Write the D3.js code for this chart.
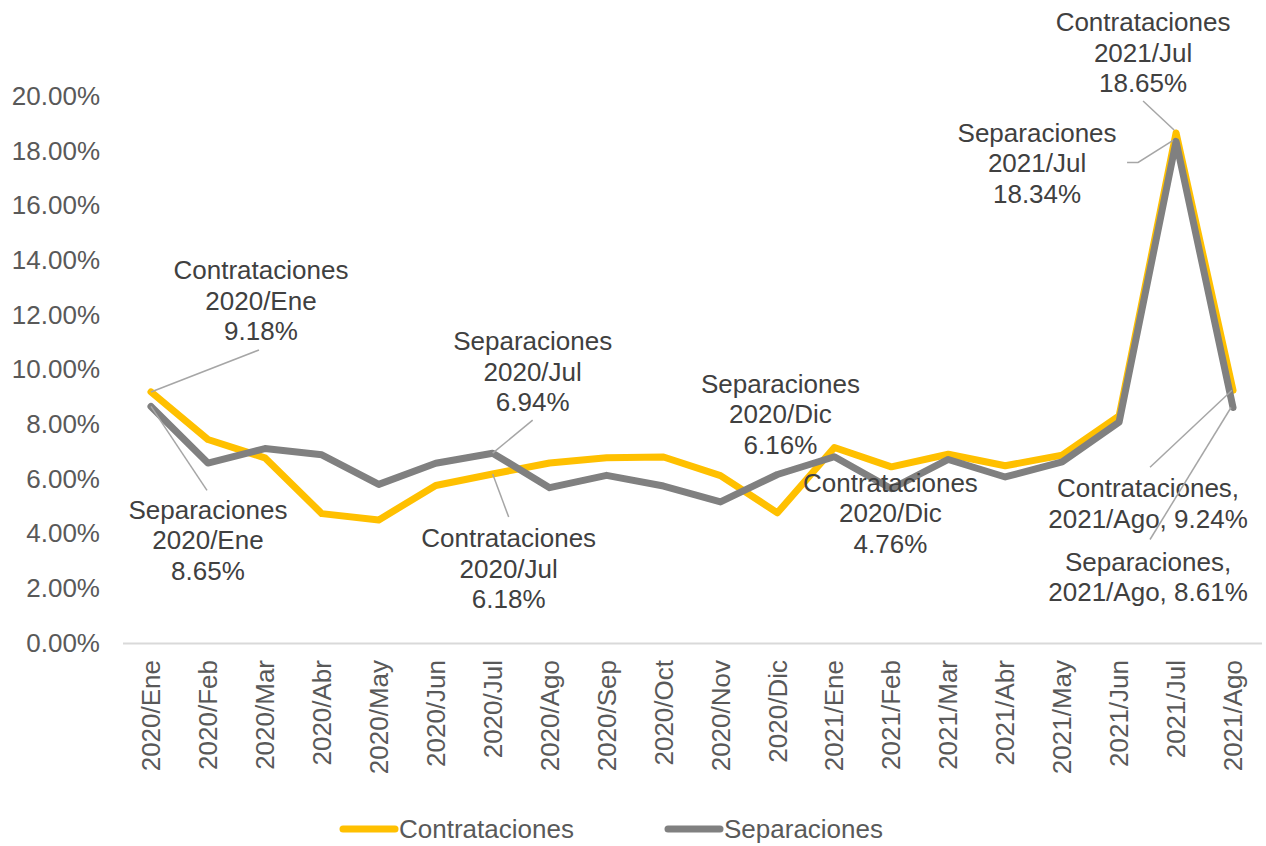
<!DOCTYPE html>
<html>
<head>
<meta charset="utf-8">
<script src="https://cdn.jsdelivr.net/npm/d3@7"></script>
<style>
  body { margin: 0; background: #fff; }
  svg text { font-family: "Liberation Sans", Arial, sans-serif; }
</style>
</head>
<body>
<svg id="chart" width="1266" height="846"></svg>
<script>
var months = ["2020/Ene","2020/Feb","2020/Mar","2020/Abr","2020/May","2020/Jun","2020/Jul","2020/Ago","2020/Sep","2020/Oct","2020/Nov","2020/Dic",
              "2021/Ene","2021/Feb","2021/Mar","2021/Abr","2021/May","2021/Jun","2021/Jul","2021/Ago"];
var contrataciones = [9.18, 7.44, 6.77, 4.73, 4.50, 5.76, 6.18, 6.58, 6.77, 6.80, 6.12, 4.76, 7.15, 6.44, 6.90, 6.48, 6.87, 8.30, 18.65, 9.24];
var separaciones  = [8.65, 6.58, 7.11, 6.88, 5.80, 6.57, 6.94, 5.68, 6.13, 5.74, 5.16, 6.16, 6.81, 5.64, 6.71, 6.07, 6.62, 8.08, 18.34, 8.61];
var yTicks = [0, 2, 4, 6, 8, 10, 12, 14, 16, 18, 20];
var seriesNames = ["Contrataciones", "Separaciones"];

// data labels: which point, text lines, offsets from the point, leader path (offsets)
var labels = [
  { s: 0, i: 0,  lines: ["Contrataciones", "2020/Ene", "9.18%"], dx: 110, dy: -122, leader: [[0,0],[108,-42]] },
  { s: 1, i: 0,  lines: ["Separaciones", "2020/Ene", "8.65%"], dx: 57, dy: 103, leader: [[0,0],[56,84]] },
  { s: 1, i: 6,  lines: ["Separaciones", "2020/Jul", "6.94%"], dx: 40, dy: -112, leader: [[0,0],[40,-33]] },
  { s: 0, i: 6,  lines: ["Contrataciones", "2020/Jul", "6.18%"], dx: 16, dy: 64, leader: [[0,0],[16,43]] },
  { s: 1, i: 11, lines: ["Separaciones", "2020/Dic", "6.16%"], dx: 3, dy: -91, leader: null },
  { s: 0, i: 11, lines: ["Contrataciones", "2020/Dic", "4.76%"], dx: 113, dy: -30, leader: null },
  { s: 0, i: 18, lines: ["Contrataciones", "2021/Jul", "18.65%"], dx: -33, dy: -111, leader: [[-2,-3],[-33,-32]] },
  { s: 1, i: 18, lines: ["Separaciones", "2021/Jul", "18.34%"], dx: -139, dy: -9, leader: [[-3,-1],[-38,21],[-49,21]] },
  { s: 0, i: 19, lines: ["Contrataciones,", "2021/Ago, 9.24%"], dx: -85, dy: 98, leader: [[-1,0],[-83,77]] },
  { s: 1, i: 19, lines: ["Separaciones,", "2021/Ago, 8.61%"], dx: -85, dy: 154, leader: [[-2,0],[-83,132]] }
];

var colors = ["#FFC000", "#808080"];
var data = [contrataciones, separaciones];

var svg = d3.select("#chart");

var x = d3.scaleBand().domain(months).range([122.5, 1261.5]);
var y = d3.scaleLinear().domain([0, 20]).range([643, 96]);

function px(i) { return x(months[i]) + x.bandwidth() / 2; }

// y axis
var yAxis = svg.append("g")
  .attr("transform", "translate(100,0)")
  .call(d3.axisLeft(y).tickValues(yTicks).tickSize(0).tickPadding(0)
    .tickFormat(function(d) { return d.toFixed(2) + "%"; }));
yAxis.select(".domain").remove();
yAxis.selectAll("text")
  .style("font-size", "26px")
  .attr("fill", "#595959")
  .attr("font-family", "Liberation Sans, Arial, sans-serif");

// x axis
var xAxis = svg.append("g")
  .attr("transform", "translate(0,643)")
  .call(d3.axisBottom(x).tickSize(0).tickPadding(0));
xAxis.select(".domain").attr("stroke", "#d9d9d9").attr("stroke-width", 2);
xAxis.selectAll("text")
  .style("font-size", "26px")
  .attr("fill", "#595959")
  .attr("font-family", "Liberation Sans, Arial, sans-serif")
  .attr("text-anchor", "end")
  .attr("transform", "translate(0,17) rotate(-90)")
  .attr("x", 0)
  .attr("y", 0)
  .attr("dy", "0.35em");

// lines
var line = d3.line()
  .x(function(d, i) { return px(i); })
  .y(function(d) { return y(d); });

data.forEach(function(vals, k) {
  svg.append("path")
    .datum(vals)
    .attr("fill", "none")
    .attr("stroke", colors[k])
    .attr("stroke-width", 7)
    .attr("stroke-linejoin", "round")
    .attr("stroke-linecap", "round")
    .attr("d", line);
});

// data labels
labels.forEach(function(l) {
  var cx = px(l.i), cy = y(data[l.s][l.i]);
  if (l.leader) {
    svg.append("path")
      .attr("fill", "none")
      .attr("stroke", "#a6a6a6")
      .attr("stroke-width", 1.5)
      .attr("d", d3.line()(l.leader.map(function(p) { return [cx + p[0], cy + p[1]]; })));
  }
  var t = svg.append("text")
    .attr("text-anchor", "middle")
    .attr("fill", "#404040")
    .style("font-size", "26px");
  l.lines.forEach(function(s, j) {
    t.append("tspan")
      .attr("x", cx + l.dx)
      .attr("y", cy + l.dy + j * 30.5)
      .attr("dy", "0.35em")
      .text(s);
  });
});

// legend
var legendX = [340, 665];
seriesNames.forEach(function(name, k) {
  var g = svg.append("g").attr("transform", "translate(" + legendX[k] + ",829)");
  g.append("line")
    .attr("x1", 3).attr("x2", 55)
    .attr("stroke", colors[k])
    .attr("stroke-width", 7)
    .attr("stroke-linecap", "round");
  g.append("text")
    .attr("x", 59)
    .attr("dy", "0.35em")
    .attr("fill", "#595959")
    .style("font-size", "26px")
    .text(name);
});
</script>
</body>
</html>
